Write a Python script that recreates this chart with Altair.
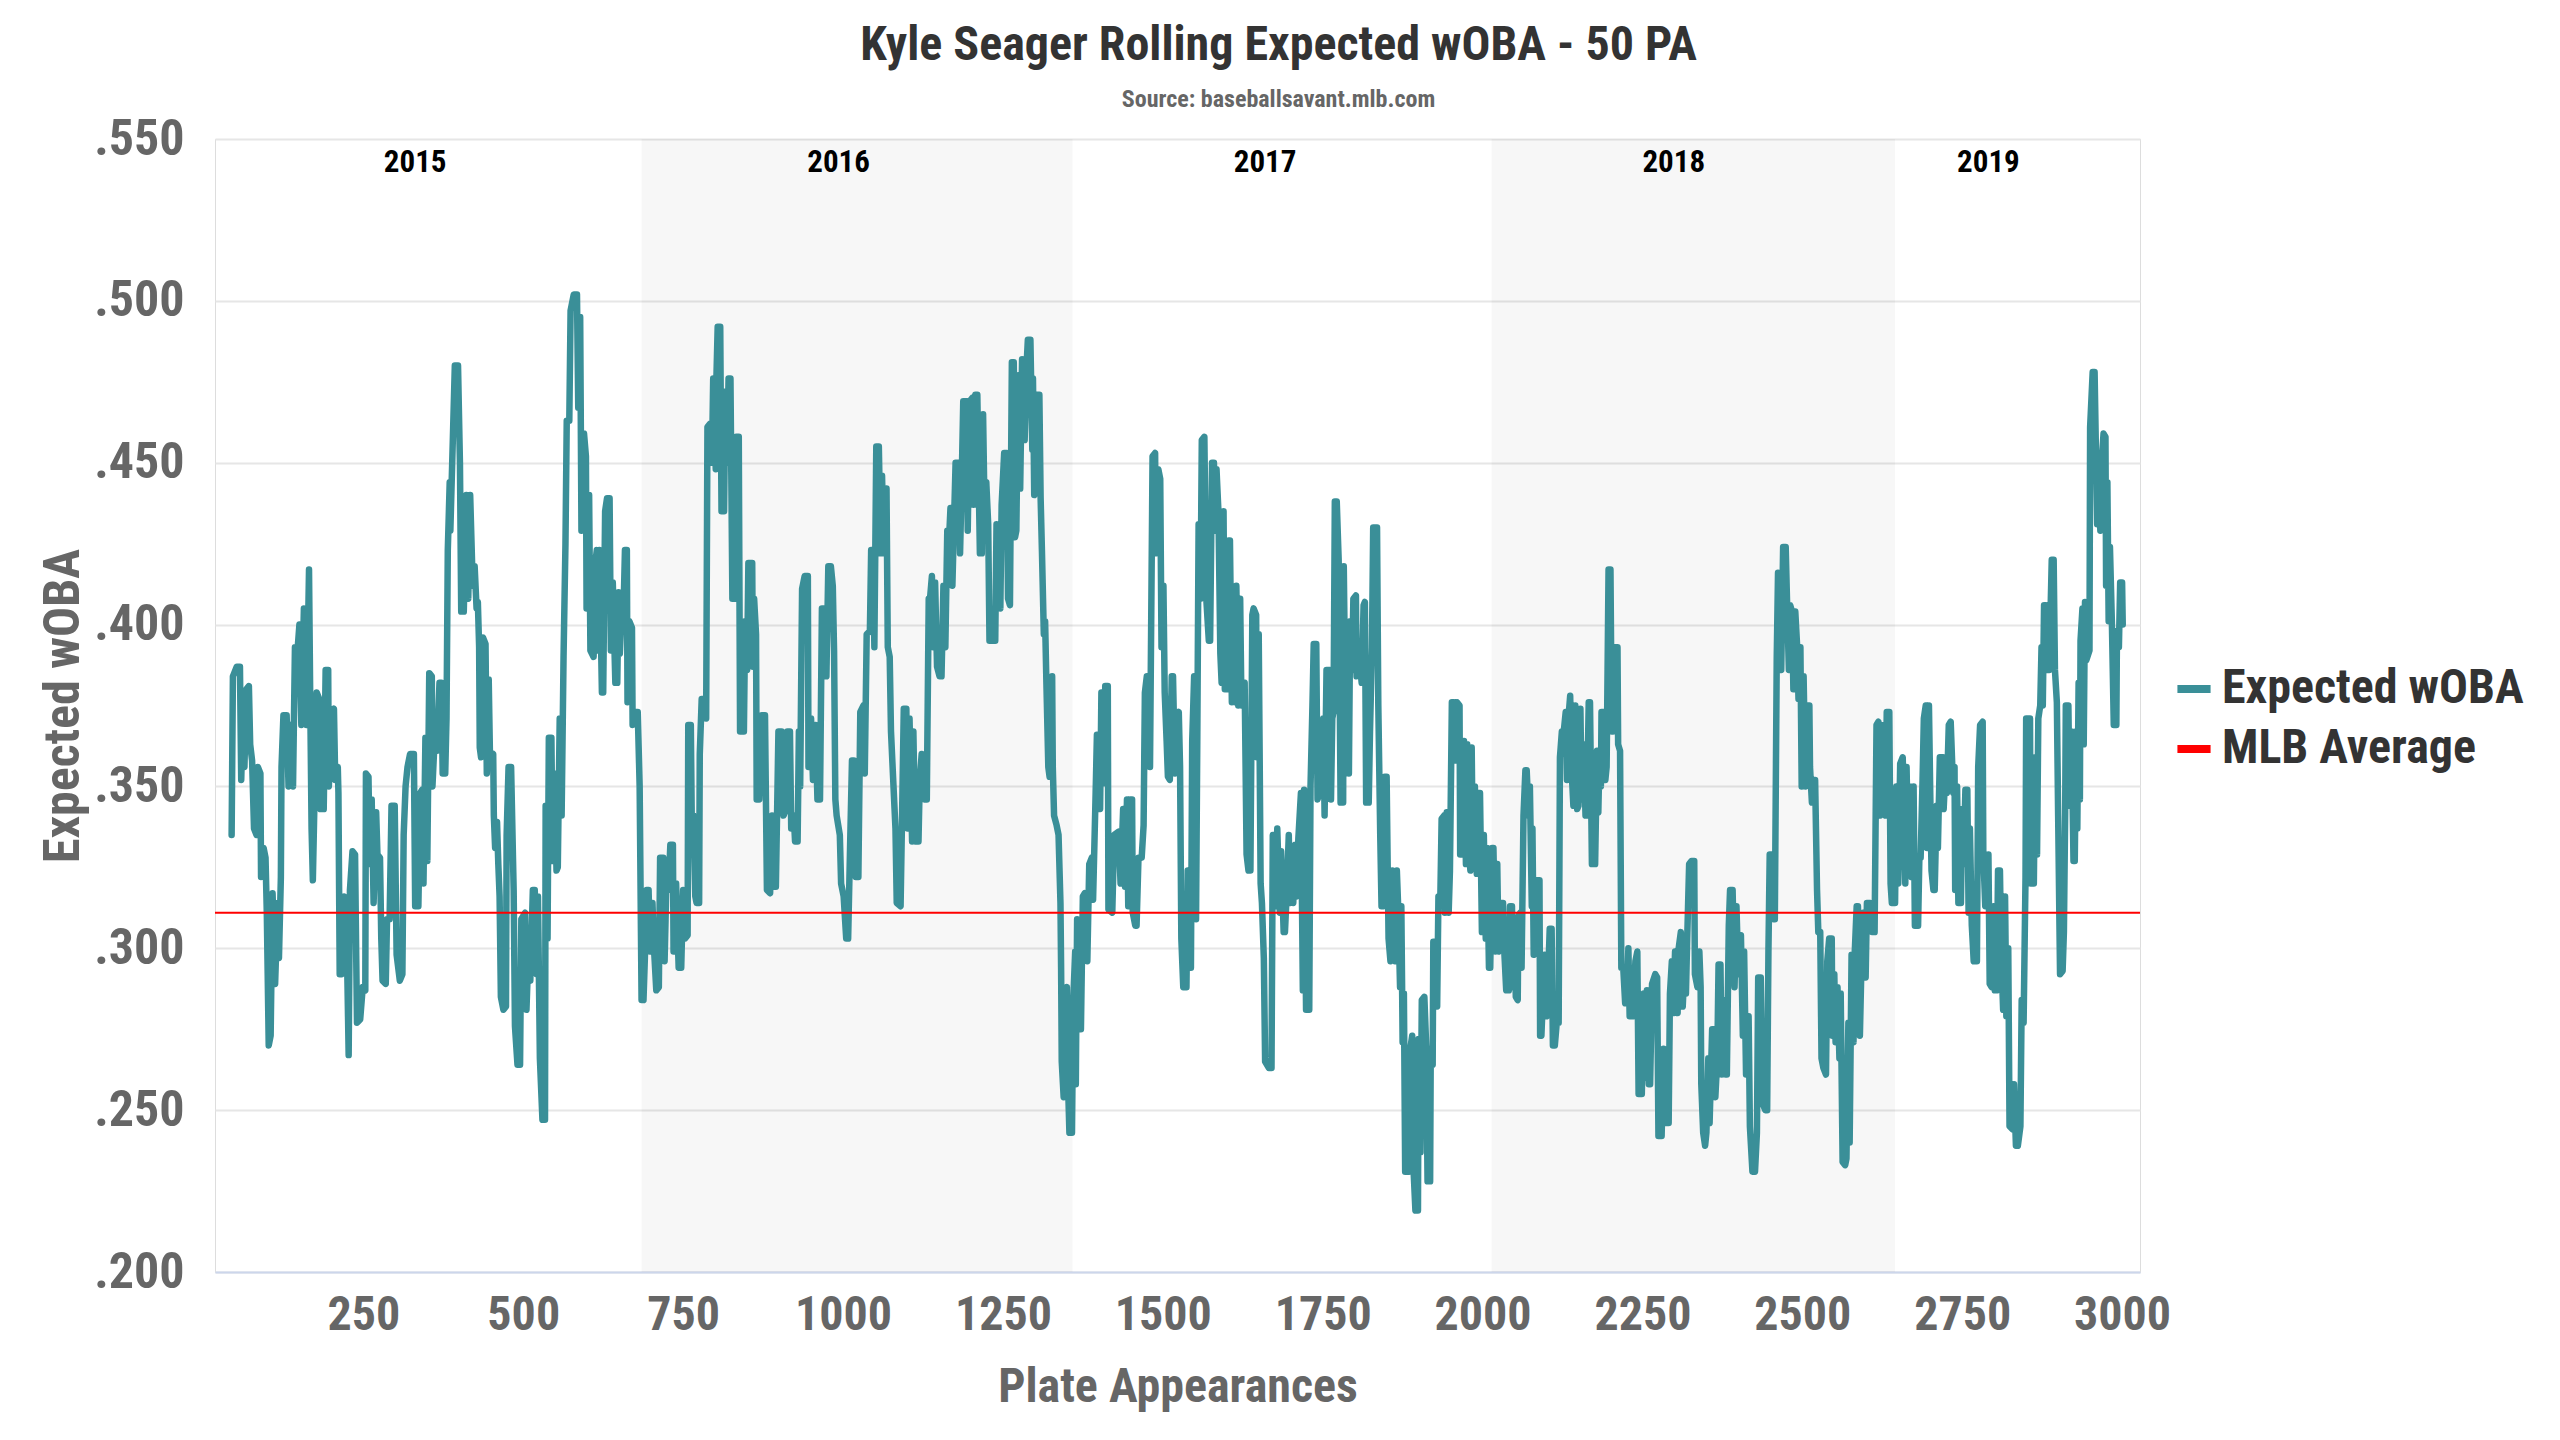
import altair as alt
import pandas as pd

TITLE = "Kyle Seager Rolling Expected wOBA - 50 PA"
SUBTITLE = "Source: baseballsavant.mlb.com"
X_TITLE = "Plate Appearances"
Y_TITLE = "Expected wOBA"
SERIES = ["Expected wOBA", "MLB Average"]
SERIES_COLORS = ["#3a8f98", "#ff0000"]
MLB_AVG = 0.311

YEARS = ["2015", "2016", "2017", "2018", "2019"]
YEAR_LABEL_PA = [331, 993, 1660, 2299, 2791]
SHADED_START = [685, 2014]
SHADED_END = [1359, 2645]

X_TICKS = [250, 500, 750, 1000, 1250, 1500, 1750, 2000, 2250, 2500, 2750, 3000]
Y_TICKS = [0.200, 0.250, 0.300, 0.350, 0.400, 0.450, 0.500, 0.550]
X_DOMAIN = [18, 3028]
Y_DOMAIN = [0.200, 0.550]

# (plate appearance, rolling expected wOBA), per season
S2015 = [(44,.335),(46,.384),(52,.387),(57,.387),(59,.352),(62,.375),(64,.356),(67,.380),(71,.381),(73,.363),(76,.358),(79,.337),(83,.335),(85,.356),(89,.354),(90,.322),(94,.331),(97,.328),(99,.311),(102,.270),(105,.273),(108,.317),(112,.289),(116,.314),(118,.297),(121,.322),(122,.356),(125,.372),(130,.372),(133,.350),(136,.369),(140,.350),(143,.393),(147,.392),(150,.400),(153,.369),(157,.405),(161,.369),(165,.417),(167,.375),(169,.337),(171,.321),(177,.379),(181,.377),(183,.343),(188,.343),(191,.386),(195,.386),(196,.350),(201,.373),(204,.374),(206,.352),(210,.356),(211,.348),(213,.292),(216,.292),(220,.316),(223,.315),(227,.267),(229,.318),(233,.330),(237,.329),(240,.277),(245,.278),(249,.288),(253,.287),(254,.354),(258,.353),(260,.326),(263,.346),(266,.314),(270,.342),(272,.329),(276,.328),(278,.303),(280,.290),(285,.289),(287,.309),(291,.309),(294,.344),(299,.344),(302,.298),(307,.290),(311,.292),(313,.335),(316,.350),(319,.356),(323,.360),(329,.360),(331,.313),(336,.313),(339,.348),(342,.349),(344,.320),(347,.365),(350,.327),(353,.385),(357,.384),(358,.350),(362,.367),(365,.361),(369,.382),(372,.382),(374,.354),(378,.354),(380,.371),(382,.423),(385,.444),(386,.429),(390,.458),(393,.480),(398,.480),(401,.450),(403,.404),(407,.404),(411,.440),(414,.408),(417,.440),(421,.412),(424,.418),(427,.405),(429,.407),(431,.393),(432,.362),(434,.359),(437,.396),(441,.394),(443,.354),(446,.383),(448,.359),(453,.360),(454,.341),(456,.331),(459,.339),(461,.326),(463,.316),(465,.285),(469,.281),(473,.282),(474,.335),(477,.356),(481,.356),(485,.318),(487,.276),(491,.264),(495,.264),(497,.309),(503,.311),(505,.281),(508,.298),(511,.290),(515,.318),(518,.318),(521,.292),(523,.316),(526,.266),(530,.247),(534,.247),(535,.344),(538,.303),(540,.365),(544,.365),(546,.327),(549,.354),(552,.324),(554,.325),(557,.371),(560,.341),(563,.390),(566,.425),(568,.463),(572,.463),(574,.497),(579,.502),(584,.502),(586,.467),(589,.495),(591,.429),(595,.459),(598,.452),(599,.405),(603,.440),(605,.392),(610,.390),(612,.418),(615,.423),(616,.392),(619,.423),(623,.379),(625,.379),(628,.435),(631,.439),(635,.439),(637,.392),(640,.413),(644,.382),(647,.382),(649,.410),(651,.391),(654,.404),(657,.406),(659,.423),(662,.423),(663,.376),(666,.401),(670,.399),(671,.369),(675,.373),(679,.373),(682,.350),(685,.284)]

S2016 = [(688,.284),(690,.296),(693,.318),(696,.318),(698,.299),(702,.314),(705,.298),(708,.287),(712,.288),(714,.328),(719,.328),(721,.296),(724,.322),(727,.318),(730,.332),(734,.332),(735,.299),(739,.320),(743,.294),(747,.294),(750,.318),(753,.303),(757,.304),(758,.369),(762,.369),(764,.329),(766,.341),(769,.316),(771,.314),(775,.314),(776,.360),(779,.377),(783,.377),(786,.371),(788,.461),(792,.462),(795,.450),(797,.476),(801,.448),(802,.476),(804,.492),(808,.492),(810,.435),(814,.435),(816,.472),(819,.450),(821,.476),(824,.476),(827,.408),(831,.408),(833,.458),(837,.458),(839,.367),(845,.367),(847,.401),(850,.386),(852,.419),(858,.419),(859,.387),(861,.408),(864,.397),(865,.346),(869,.346),(873,.372),(878,.372),(881,.318),(886,.317),(889,.341),(891,.319),(895,.319),(899,.367),(904,.367),(907,.341),(911,.343),(913,.367),(917,.367),(919,.337),(923,.341),(925,.333),(929,.333),(931,.367),(933,.350),(936,.411),(940,.415),(945,.415),(946,.356),(950,.371),(953,.352),(957,.369),(960,.346),(964,.346),(967,.405),(971,.405),(974,.384),(977,.418),(981,.418),(984,.412),(986,.392),(988,.346),(990,.341),(995,.335),(997,.320),(1001,.316),(1005,.303),(1008,.303),(1011,.331),(1014,.358),(1017,.358),(1020,.322),(1024,.322),(1027,.373),(1032,.375),(1034,.354),(1037,.397),(1042,.398),(1044,.423),(1047,.423),(1049,.393),(1052,.455),(1056,.455),(1059,.422),(1061,.446),(1064,.422),(1068,.442),(1070,.393),(1073,.390),(1075,.367),(1078,.354),(1082,.337),(1084,.314),(1090,.313),(1092,.337),(1095,.374),(1099,.374),(1101,.337),(1104,.371),(1108,.333),(1110,.367),(1113,.333),(1118,.333),(1120,.352),(1123,.360),(1127,.346),(1131,.346),(1134,.408),(1136,.408),(1139,.415),(1141,.393),(1144,.413),(1147,.387),(1151,.384),(1154,.384),(1157,.412),(1160,.393),(1163,.429),(1165,.423),(1168,.436),(1171,.412),(1174,.435),(1176,.450),(1181,.450),(1183,.422),(1185,.439),(1188,.469),(1193,.469),(1195,.429),(1198,.469),(1202,.470),(1204,.437),(1207,.471),(1210,.471),(1214,.422),(1217,.422),(1219,.465),(1221,.439),(1224,.444),(1227,.431),(1229,.395),(1238,.395),(1240,.431),(1246,.405),(1248,.437),(1252,.453),(1256,.453),(1258,.408),(1261,.406),(1264,.481),(1267,.481),(1269,.427),(1271,.429),(1274,.477),(1277,.442),(1280,.482),(1284,.457),(1287,.480),(1289,.488),(1293,.488),(1296,.454),(1297,.476),(1299,.440),(1303,.471),(1307,.471),(1309,.439),(1311,.423),(1314,.397),(1316,.401),(1318,.382),(1321,.356),(1323,.353),(1327,.384),(1328,.356),(1330,.341),(1334,.338),(1337,.335),(1340,.314),(1341,.294),(1342,.265),(1345,.254),(1347,.286),(1350,.288),(1351,.264),(1354,.243),(1358,.243)]

S2017 = [(1360,.284),(1363,.299),(1364,.258),(1366,.309),(1370,.275),(1372,.275),(1375,.316),(1378,.317),(1382,.296),(1385,.326),(1389,.328),(1391,.315),(1395,.348),(1397,.366),(1402,.343),(1404,.379),(1408,.379),(1409,.351),(1410,.381),(1414,.381),(1415,.312),(1421,.311),(1424,.335),(1431,.336),(1434,.320),(1438,.343),(1441,.319),(1444,.346),(1446,.313),(1449,.346),(1452,.346),(1453,.311),(1457,.307),(1459,.307),(1462,.328),(1467,.328),(1470,.338),(1472,.379),(1475,.384),(1479,.384),(1480,.356),(1484,.452),(1488,.453),(1489,.422),(1493,.448),(1496,.445),(1498,.393),(1501,.412),(1503,.379),(1506,.364),(1508,.353),(1511,.352),(1514,.384),(1516,.384),(1519,.354),(1521,.371),(1525,.373),(1527,.356),(1529,.303),(1532,.288),(1537,.288),(1539,.324),(1542,.294),(1544,.294),(1546,.364),(1549,.384),(1552,.309),(1554,.366),(1556,.431),(1559,.408),(1561,.457),(1565,.458),(1568,.408),(1572,.395),(1574,.395),(1577,.450),(1580,.450),(1582,.429),(1584,.448),(1587,.435),(1590,.391),(1592,.382),(1595,.435),(1597,.380),(1601,.380),(1603,.426),(1605,.426),(1608,.376),(1610,.401),(1613,.376),(1615,.412),(1618,.375),(1621,.408),(1623,.375),(1628,.382),(1631,.329),(1634,.324),(1637,.324),(1640,.403),(1642,.405),(1646,.403),(1647,.359),(1650,.397),(1653,.320),(1655,.314),(1658,.297),(1660,.265),(1666,.263),(1670,.263),(1672,.335),(1676,.335),(1677,.313),(1679,.337),(1683,.311),(1685,.330),(1689,.305),(1691,.305),(1694,.318),(1697,.335),(1699,.314),(1702,.331),(1704,.314),(1707,.332),(1709,.316),(1712,.334),(1716,.348),(1719,.287),(1721,.349),(1724,.281),(1729,.281),(1731,.350),(1734,.375),(1736,.394),(1740,.394),(1742,.346),(1748,.350),(1751,.371),(1753,.341),(1756,.386),(1761,.386),(1763,.346),(1765,.371),(1767,.373),(1769,.438),(1772,.438),(1775,.420),(1778,.345),(1782,.345),(1783,.418),(1785,.384),(1788,.399),(1791,.354),(1793,.401),(1796,.386),(1798,.408),(1802,.409),(1803,.384),(1806,.393),(1811,.382),(1814,.406),(1816,.407),(1818,.345),(1822,.345),(1824,.367),(1827,.393),(1829,.430),(1835,.430),(1837,.375),(1840,.335),(1842,.313),(1845,.313),(1847,.353),(1850,.353),(1853,.303),(1856,.296),(1859,.324),(1863,.296),(1866,.324),(1868,.313),(1871,.288),(1873,.313),(1875,.271),(1877,.286),(1879,.231),(1885,.231),(1887,.269),(1890,.273),(1892,.232),(1895,.219),(1899,.219),(1900,.272),(1903,.237),(1905,.284),(1909,.285),(1912,.269),(1914,.228),(1918,.228),(1919,.269),(1922,.264),(1923,.302),(1926,.302),(1929,.282),(1931,.316),(1934,.316),(1936,.340),(1940,.341),(1941,.311),(1944,.342),(1947,.311),(1949,.324),(1952,.376),(1955,.376),(1957,.358),(1960,.376),(1964,.375),(1965,.329),(1969,.329),(1971,.364),(1974,.326),(1976,.363),(1979,.329),(1981,.324),(1983,.362),(1985,.325),(1988,.350),(1991,.323),(1993,.348),(1996,.348),(1999,.305),(2002,.335),(2005,.303),(2007,.331),(2010,.294),(2012,.294)]

S2018 = [(2015,.331),(2017,.331),(2020,.299),(2023,.326),(2025,.299),(2028,.314),(2032,.314),(2034,.299),(2037,.287),(2041,.287),(2043,.313),(2046,.313),(2047,.288),(2050,.303),(2052,.285),(2055,.284),(2056,.310),(2059,.311),(2061,.294),(2064,.341),(2067,.355),(2069,.355),(2072,.341),(2074,.350),(2077,.313),(2078,.337),(2080,.298),(2085,.321),(2089,.321),(2090,.273),(2092,.273),(2095,.288),(2097,.298),(2100,.279),(2103,.294),(2105,.306),(2108,.306),(2110,.270),(2113,.270),(2116,.277),(2119,.277),(2121,.359),(2124,.367),(2127,.367),(2130,.373),(2132,.352),(2135,.373),(2137,.378),(2140,.352),(2142,.344),(2145,.375),(2148,.343),(2150,.344),(2153,.374),(2155,.346),(2158,.363),(2161,.341),(2163,.341),(2166,.376),(2168,.376),(2171,.326),(2176,.326),(2179,.361),(2181,.342),(2183,.361),(2185,.350),(2186,.373),(2189,.373),(2192,.352),(2194,.356),(2197,.417),(2200,.417),(2202,.367),(2204,.367),(2207,.393),(2211,.393),(2212,.363),(2215,.361),(2217,.294),(2220,.294),(2223,.283),(2225,.283),(2228,.300),(2230,.279),(2235,.279),(2239,.296),(2242,.299),(2244,.255),(2249,.255),(2252,.286),(2255,.260),(2257,.287),(2260,.258),(2262,.258),(2265,.289),(2270,.292),(2273,.291),(2275,.242),(2280,.242),(2283,.269),(2286,.246),(2291,.246),(2293,.286),(2296,.296),(2298,.280),(2301,.299),(2305,.280),(2306,.299),(2310,.305),(2313,.282),(2315,.291),(2318,.286),(2320,.303),(2323,.326),(2327,.327),(2331,.327),(2332,.292),(2336,.288),(2339,.299),(2341,.288),(2342,.258),(2345,.243),(2348,.239),(2350,.243),(2353,.266),(2355,.246),(2359,.275),(2362,.275),(2364,.254),(2367,.266),(2369,.295),(2372,.295),(2374,.261),(2377,.284),(2380,.261),(2382,.261),(2385,.307),(2387,.318),(2391,.318),(2394,.288),(2397,.313),(2400,.292),(2404,.304),(2407,.273),(2409,.299),(2412,.261),(2416,.279),(2418,.245),(2422,.231),(2426,.231),(2429,.243),(2431,.291),(2435,.291),(2438,.252),(2442,.250),(2445,.250),(2447,.299),(2449,.329),(2452,.329),(2455,.309),(2457,.309),(2460,.390),(2462,.416),(2465,.412),(2467,.386),(2470,.424),(2474,.424),(2476,.408),(2479,.386),(2481,.406),(2484,.404),(2486,.380),(2489,.404),(2492,.393),(2494,.377),(2497,.393),(2499,.350),(2502,.384),(2505,.350),(2507,.375),(2511,.375),(2512,.356),(2515,.345),(2518,.352),(2520,.352),(2523,.318),(2525,.305),(2528,.305),(2530,.266),(2533,.263),(2537,.261),(2539,.296),(2542,.303),(2546,.303),(2547,.273),(2550,.292),(2552,.271),(2555,.288),(2558,.266),(2560,.286),(2563,.234),(2567,.233),(2569,.235),(2572,.277),(2574,.240),(2577,.298),(2580,.271),(2582,.299),(2585,.313),(2587,.313),(2590,.273),(2592,.291),(2595,.311),(2599,.291),(2601,.314),(2606,.314),(2609,.305),(2613,.305),(2616,.369),(2619,.370),(2622,.341),(2624,.369),(2627,.352),(2630,.341),(2632,.373),(2636,.373),(2638,.320),(2640,.314),(2645,.314)]

S2019 = [(2647,.350),(2650,.320),(2653,.357),(2657,.359),(2661,.320),(2663,.356),(2666,.324),(2668,.350),(2671,.322),(2674,.350),(2676,.307),(2681,.307),(2683,.328),(2685,.328),(2688,.352),(2690,.371),(2693,.375),(2695,.331),(2698,.375),(2700,.348),(2702,.324),(2705,.318),(2707,.318),(2710,.344),(2712,.331),(2715,.359),(2720,.359),(2721,.343),(2724,.356),(2726,.348),(2729,.369),(2732,.370),(2736,.348),(2738,.356),(2739,.318),(2742,.350),(2744,.314),(2748,.314),(2750,.343),(2752,.326),(2755,.349),(2758,.349),(2760,.311),(2762,.337),(2765,.307),(2768,.296),(2773,.296),(2775,.356),(2778,.369),(2782,.370),(2783,.329),(2786,.313),(2788,.313),(2791,.329),(2793,.289),(2796,.288),(2799,.313),(2801,.287),(2804,.287),(2806,.324),(2809,.324),(2811,.298),(2814,.281),(2817,.316),(2819,.279),(2822,.300),(2824,.245),(2829,.244),(2831,.258),(2834,.239),(2837,.239),(2841,.245),(2843,.284),(2846,.277),(2849,.322),(2850,.371),(2856,.371),(2857,.320),(2862,.320),(2864,.359),(2867,.329),(2869,.371),(2872,.375),(2874,.393),(2876,.375),(2878,.406),(2881,.406),(2883,.386),(2886,.386),(2890,.420),(2893,.420),(2895,.386),(2898,.376),(2900,.341),(2903,.292),(2907,.293),(2909,.305),(2911,.342),(2912,.375),(2916,.375),(2918,.344),(2921,.367),(2924,.327),(2926,.327),(2928,.367),(2930,.337),(2932,.382),(2934,.346),(2935,.395),(2938,.405),(2940,.363),(2942,.407),(2944,.389),(2949,.392),(2950,.461),(2954,.478),(2957,.478),(2961,.431),(2963,.450),(2966,.429),(2968,.450),(2971,.459),(2974,.458),(2975,.412),(2977,.444),(2979,.401),(2981,.424),(2984,.401),(2987,.369),(2991,.369),(2992,.398),(2995,.393),(2997,.413),(3000,.413),(3001,.400)]

FONT = "Roboto Condensed, Liberation Sans Narrow, DejaVu Sans Condensed, sans-serif"
W, H = 1925, 1133

rows = []
for season in (S2015, S2016, S2017, S2018, S2019):
    for pa, v in season:
        rows.append({"pa": pa, "xwoba": v, "series": SERIES[0]})
line_df = pd.DataFrame(rows)
line_df["idx"] = range(len(line_df))

avg_df = pd.DataFrame({"avg": [MLB_AVG], "series": [SERIES[1]]})
band_df = pd.DataFrame({"start": SHADED_START, "end": SHADED_END})
year_df = pd.DataFrame({"year": YEARS, "pa": YEAR_LABEL_PA})

x_scale = alt.Scale(domain=X_DOMAIN, nice=False, zero=False)
y_scale = alt.Scale(domain=Y_DOMAIN, nice=False, zero=False)

x_axis = alt.Axis(
    values=X_TICKS, format="d", title=X_TITLE, grid=False, ticks=False,
    domainColor="#ccd6eb", domainWidth=2, labelFlush=False, labelOverlap=False,
    labelFont=FONT, labelFontSize=48, labelFontWeight="bold", labelColor="#666666",
    labelPadding=19, titleFont=FONT, titleFontSize=48, titleFontWeight="bold",
    titleColor="#666666", titlePadding=24,
)
y_axis = alt.Axis(
    values=Y_TICKS, title=Y_TITLE, grid=True, gridColor="#e6e6e6", gridWidth=2,
    domain=False, ticks=False, labelFlush=False, labelOverlap=False,
    labelExpr="substring(format(datum.value, '.3f'), 1)",
    labelFont=FONT, labelFontSize=50, labelFontWeight="bold", labelColor="#666666",
    labelPadding=31, titleFont=FONT, titleFontSize=50, titleFontWeight="bold",
    titleColor="#666666", titlePadding=5,
)

color = alt.Color(
    "series:N",
    scale=alt.Scale(domain=SERIES, range=SERIES_COLORS),
    legend=alt.Legend(
        title=None, orient="none", legendX=1955, legendY=526, padding=0,
        symbolType="stroke", symbolSize=1100, symbolStrokeWidth=8,
        labelFont=FONT, labelFontSize=48, labelFontWeight="bold",
        labelColor="#333333", labelLimit=0, labelOffset=4, rowPadding=12,
    ),
)

bands = alt.Chart(band_df).mark_rect(fill="#000000", opacity=0.031).encode(
    x=alt.X("start:Q", scale=x_scale, axis=x_axis),
    x2="end:Q",
    y=alt.value(0),
    y2=alt.value(H),
)

line = alt.Chart(line_df).mark_line(strokeWidth=6.5, strokeCap="round", strokeJoin="round").encode(
    x=alt.X("pa:Q", scale=x_scale, axis=x_axis),
    y=alt.Y("xwoba:Q", scale=y_scale, axis=y_axis),
    color=color,
    order=alt.Order("idx:Q"),
)

avg = alt.Chart(avg_df).mark_rule(strokeWidth=2).encode(
    y=alt.Y("avg:Q", scale=y_scale, axis=y_axis),
    color=color,
)

years = alt.Chart(year_df).mark_text(
    font=FONT, fontSize=31, fontWeight="bold", color="#000000", baseline="middle", align="center"
).encode(
    x=alt.X("pa:Q", scale=x_scale, axis=x_axis),
    y=alt.value(24),
    text="year:N",
)

chart = alt.layer(bands, line, avg, years).properties(
    width=W,
    height=H,
    padding={"left": 207, "top": 131, "right": 410, "bottom": 150},
    autosize=alt.AutoSizeParams(type="none"),
    title=alt.TitleParams(
        text=TITLE, subtitle=SUBTITLE, anchor="middle", dx=101,
        font=FONT, fontSize=48, fontWeight="bold", color="#333333",
        subtitleFont=FONT, subtitleFontSize=24, subtitleFontWeight="bold",
        subtitleColor="#666666", subtitlePadding=18, offset=2,
    ),
).configure_view(stroke=None).configure(background="#ffffff")

chart.save("out.html", embed_options={"renderer": "svg", "actions": False})
